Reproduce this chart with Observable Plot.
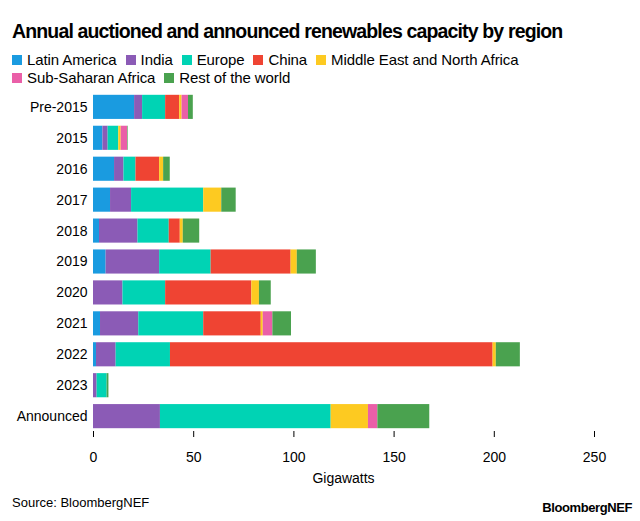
<!DOCTYPE html>
<html>
<head>
<meta charset="utf-8">
<script src="https://cdn.jsdelivr.net/npm/d3@7"></script>
<script src="https://cdn.jsdelivr.net/npm/@observablehq/plot@0.6"></script>
<style>
  body { margin: 0; background: #fff; font-family: "Liberation Sans", Arial, sans-serif; color: #000; }
  #wrap { width: 640px; height: 521px; position: relative; overflow: hidden; }
  #title { position: absolute; left: 12px; top: 20px; font-size: 19.5px; font-weight: bold; letter-spacing: -0.85px; white-space: nowrap; }
  #legend { position: absolute; left: 12px; top: 51px; width: 620px; font-size: 15px; line-height: 18px; letter-spacing: -0.1px; }
  .item { display: inline-flex; align-items: center; margin-right: 9px; white-space: nowrap; }
  .sw { width: 10px; height: 10px; margin-right: 5px; display: inline-block; }
  #chart { position: absolute; left: 0; top: 88px; }
  #xlabel { position: absolute; left: 93px; width: 501px; text-align: center; top: 470px; font-size: 14px; }
  #source { position: absolute; left: 12px; top: 495px; font-size: 13px; }
  #brand { position: absolute; right: 8px; top: 500px; font-size: 13px; font-weight: bold; letter-spacing: -0.4px; }
</style>
</head>
<body>
<div id="wrap">
  <div id="title">Annual auctioned and announced renewables capacity by region</div>
  <div id="legend"></div>
  <div id="chart"></div>
  <div id="xlabel">Gigawatts</div>
  <div id="source">Source: BloombergNEF</div>
  <div id="brand">BloombergNEF</div>
</div>
<script>
const categories = ["Pre-2015", "2015", "2016", "2017", "2018", "2019", "2020", "2021", "2022", "2023", "Announced"];
const regions = ["Latin America", "India", "Europe", "China", "Middle East and North Africa", "Sub-Saharan Africa", "Rest of the world"];
const colors = ["#1a9be0", "#8b5bb6", "#00d3b4", "#ef4433", "#fdca21", "#ea5fa8", "#4aa24f"];

const latinAmerica = [20.5, 4.7, 10.5, 8.5, 3.0, 6.3, 0, 3.5, 1.5, 0, 0];
const india        = [4.0, 2.6, 4.7, 10.5, 19.2, 26.7, 14.7, 19.1, 9.8, 1.8, 33.4];
const europe       = [11.5, 5.3, 6.0, 36.0, 15.6, 25.7, 21.3, 32.4, 27.1, 5.0, 85.2];
const china        = [7.0, 0, 11.8, 0, 5.5, 39.9, 43.0, 28.7, 161.0, 0, 0];
const mena         = [1.2, 1.2, 2.0, 9.0, 1.5, 3.1, 3.8, 1.0, 1.6, 0, 18.6];
const subSaharan   = [3.2, 3.2, 0, 0, 0, 0, 0, 4.8, 0, 0, 4.7];
const restOfWorld  = [2.4, 0.3, 3.3, 7.2, 8.2, 9.5, 5.9, 9.3, 12.0, 0.9, 25.9];

const xTicks = [0, 50, 100, 150, 200, 250];

const series = [latinAmerica, india, europe, china, mena, subSaharan, restOfWorld];
const data = [];
categories.forEach((c, i) => {
  regions.forEach((r, j) => {
    data.push({category: c, region: r, value: series[j][i]});
  });
});

const legend = document.getElementById("legend");
regions.forEach((r, j) => {
  const it = document.createElement("span");
  it.className = "item";
  it.innerHTML = `<span class="sw" style="background:${colors[j]}"></span>${r}`;
  legend.appendChild(it);
  if (j === 4) legend.appendChild(document.createElement("br"));
});

const chart = Plot.plot({
  width: 640,
  height: 400,
  marginLeft: 93,
  marginRight: 46,
  marginTop: 0,
  marginBottom: 53,
  style: {fontFamily: "Liberation Sans, Arial, sans-serif", fontSize: "14px", color: "#000", background: "#fff"},
  x: {domain: [0, 250], label: null},
  y: {domain: categories, padding: 0.22, round: false, label: null},
  color: {domain: regions, range: colors},
  marks: [
    Plot.barX(data, Plot.stackX({x: "value", y: "category", fill: "region", order: regions})),
    Plot.axisX({ticks: xTicks, tickSize: 6, tickPadding: 15, dy: -4, label: null, fontSize: 14}),
    Plot.axisY({tickSize: 0, tickPadding: 6, label: null, fontSize: 14})
  ]
});
document.getElementById("chart").appendChild(chart);
</script>
</body>
</html>
